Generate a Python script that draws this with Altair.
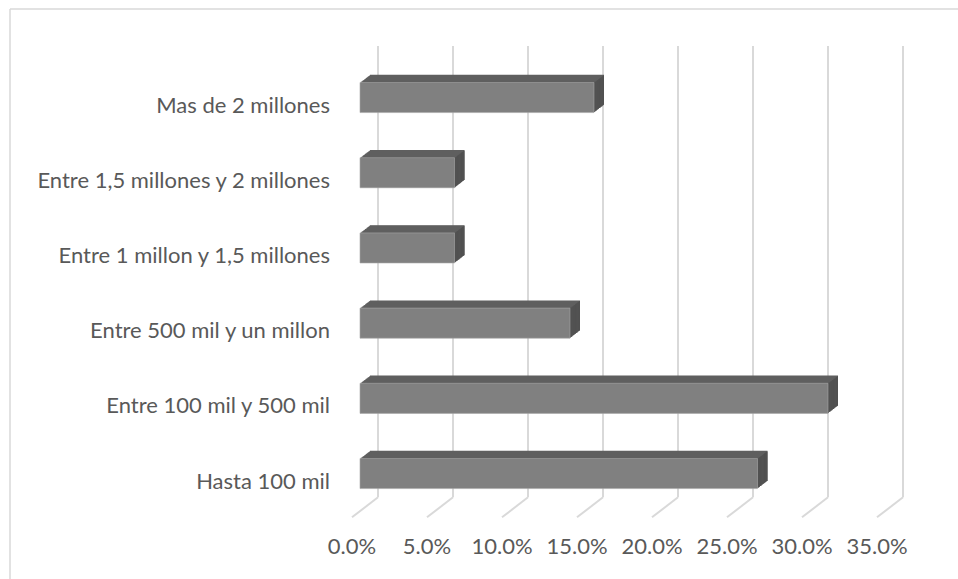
import altair as alt
import pandas as pd

# ---- data ----
categories = [
    "Mas de 2 millones",
    "Entre 1,5 millones y 2 millones",
    "Entre 1 millon y 1,5 millones",
    "Entre 500 mil y un millon",
    "Entre 100 mil y 500 mil",
    "Hasta 100 mil",
]
values = [15.6, 6.3, 6.3, 14.0, 31.2, 26.5]  # percent
tick_values = [0, 5, 10, 15, 20, 25, 30, 35]
tick_labels = ["0.0%", "5.0%", "10.0%", "15.0%", "20.0%", "25.0%", "30.0%", "35.0%"]

# ---- layout / pseudo-3D geometry (in data units) ----
W, H = 948, 570
X_DOMAIN = [-22.8, 40.4]
Y_DOMAIN = [-1.3205, 6.259]
DX = 26 / 15.0       # full depth shift along value axis (%)
DY = 20 / 75.2       # full depth shift along category axis
D_FRONT, D_BACK = 0.3077, 0.6923
HALF = 0.2
N = len(categories)
STEPS = 12

xs = alt.Scale(domain=X_DOMAIN, nice=False, zero=False)
ys = alt.Scale(domain=Y_DOMAIN, nice=False, zero=False)

cat_df = pd.DataFrame({"cat": categories, "val": values})
cat_df["c"] = [N - 1 - k for k in range(N)]

# front faces
front = cat_df.copy()
front["x0"] = D_FRONT * DX
front["x1"] = front["val"] + D_FRONT * DX
front["yb"] = front["c"] - HALF + D_FRONT * DY
front["yt"] = front["c"] + HALF + D_FRONT * DY

# depth extrusion: top face (shifted copies) and side face (strips)
BDX = (D_BACK - D_FRONT) * DX
BDY = (D_BACK - D_FRONT) * DY
top_rows, side_rows = [], []
for _, r in front.iterrows():
    for k in range(1, STEPS + 1):
        t0, t = (k - 1) / STEPS, k / STEPS
        top_rows.append({
            "cat": r["cat"],
            "ax": r["x0"] + t * BDX, "ax2": r["x1"] + t * BDX,
            "ay": r["yb"] + t * BDY, "ay2": r["yt"] + t * BDY,
        })
        side_rows.append({
            "cat": r["cat"],
            "ax": r["x1"] + t0 * BDX, "ax2": r["x1"] + t * BDX,
            "ay": r["yb"] + t * BDY, "ay2": r["yt"] + t0 * BDY,
        })
top_df = pd.DataFrame(top_rows)
side_df = pd.DataFrame(side_rows)

grid_df = pd.DataFrame({"v": tick_values, "label": tick_labels})
grid_df["wx"] = grid_df["v"] + DX
grid_df["y_bot"] = -0.5 + DY
grid_df["y_top"] = (N - 0.5) + DY
grid_df["y_floor"] = -0.5

GRID = "#d9d9d9"
TEXT = "#595959"
FONT = "Lato"

border_top = alt.Chart(grid_df.head(1)).mark_rule(color=GRID, strokeWidth=1.5).encode(
    x=alt.value(0), x2=alt.value(W), y=alt.value(0)
)
border_left = alt.Chart(grid_df.head(1)).mark_rule(color=GRID, strokeWidth=1.5).encode(
    x=alt.value(0), y=alt.value(0), y2=alt.value(H)
)

wall = alt.Chart(grid_df).mark_rule(color=GRID, strokeWidth=2).encode(
    x=alt.X("wx:Q", scale=xs, axis=None),
    y=alt.Y("y_bot:Q", scale=ys, axis=None),
    y2="y_top:Q",
)
floor = alt.Chart(grid_df).mark_rule(color=GRID, strokeWidth=2).encode(
    x=alt.X("v:Q", scale=xs, axis=None),
    y=alt.Y("y_floor:Q", scale=ys, axis=None),
    x2="wx:Q",
    y2="y_bot:Q",
)

top_face = alt.Chart(top_df).mark_rect(color="#5f5f5f").encode(
    x=alt.X("ax:Q", scale=xs, axis=None),
    x2="ax2:Q",
    y=alt.Y("ay:Q", scale=ys, axis=None),
    y2="ay2:Q",
)
side_face = alt.Chart(side_df).mark_rect(color="#4f4f4f").encode(
    x=alt.X("ax:Q", scale=xs, axis=None),
    x2="ax2:Q",
    y=alt.Y("ay:Q", scale=ys, axis=None),
    y2="ay2:Q",
)
front_face = alt.Chart(front).mark_rect(color="#808080", stroke="#a6a6a6", strokeWidth=0.6).encode(
    x=alt.X("x0:Q", scale=xs, axis=None),
    x2="x1:Q",
    y=alt.Y("yb:Q", scale=ys, axis=None),
    y2="yt:Q",
)

cat_labels = alt.Chart(cat_df).mark_text(
    align="right", baseline="middle", font=FONT, fontSize=22, color=TEXT, dy=2
).encode(
    x=alt.value(320),
    y=alt.Y("c:Q", scale=ys, axis=None),
    text="cat:N",
)
tick_text = alt.Chart(grid_df).mark_text(
    align="center", baseline="middle", font=FONT, fontSize=22, color=TEXT
).encode(
    x=alt.X("v:Q", scale=xs, axis=None),
    y=alt.value(538),
    text="label:N",
)

chart = alt.layer(
    border_top, border_left, wall, floor, top_face, side_face, front_face, cat_labels, tick_text
).properties(
    width=W, height=H,
    autosize=alt.AutoSizeParams(type="none"),
    padding={"left": 10, "top": 9, "right": 0, "bottom": 0},
).configure_view(stroke=None)

chart.save("out.html", embed_options={"renderer": "svg", "actions": False})
